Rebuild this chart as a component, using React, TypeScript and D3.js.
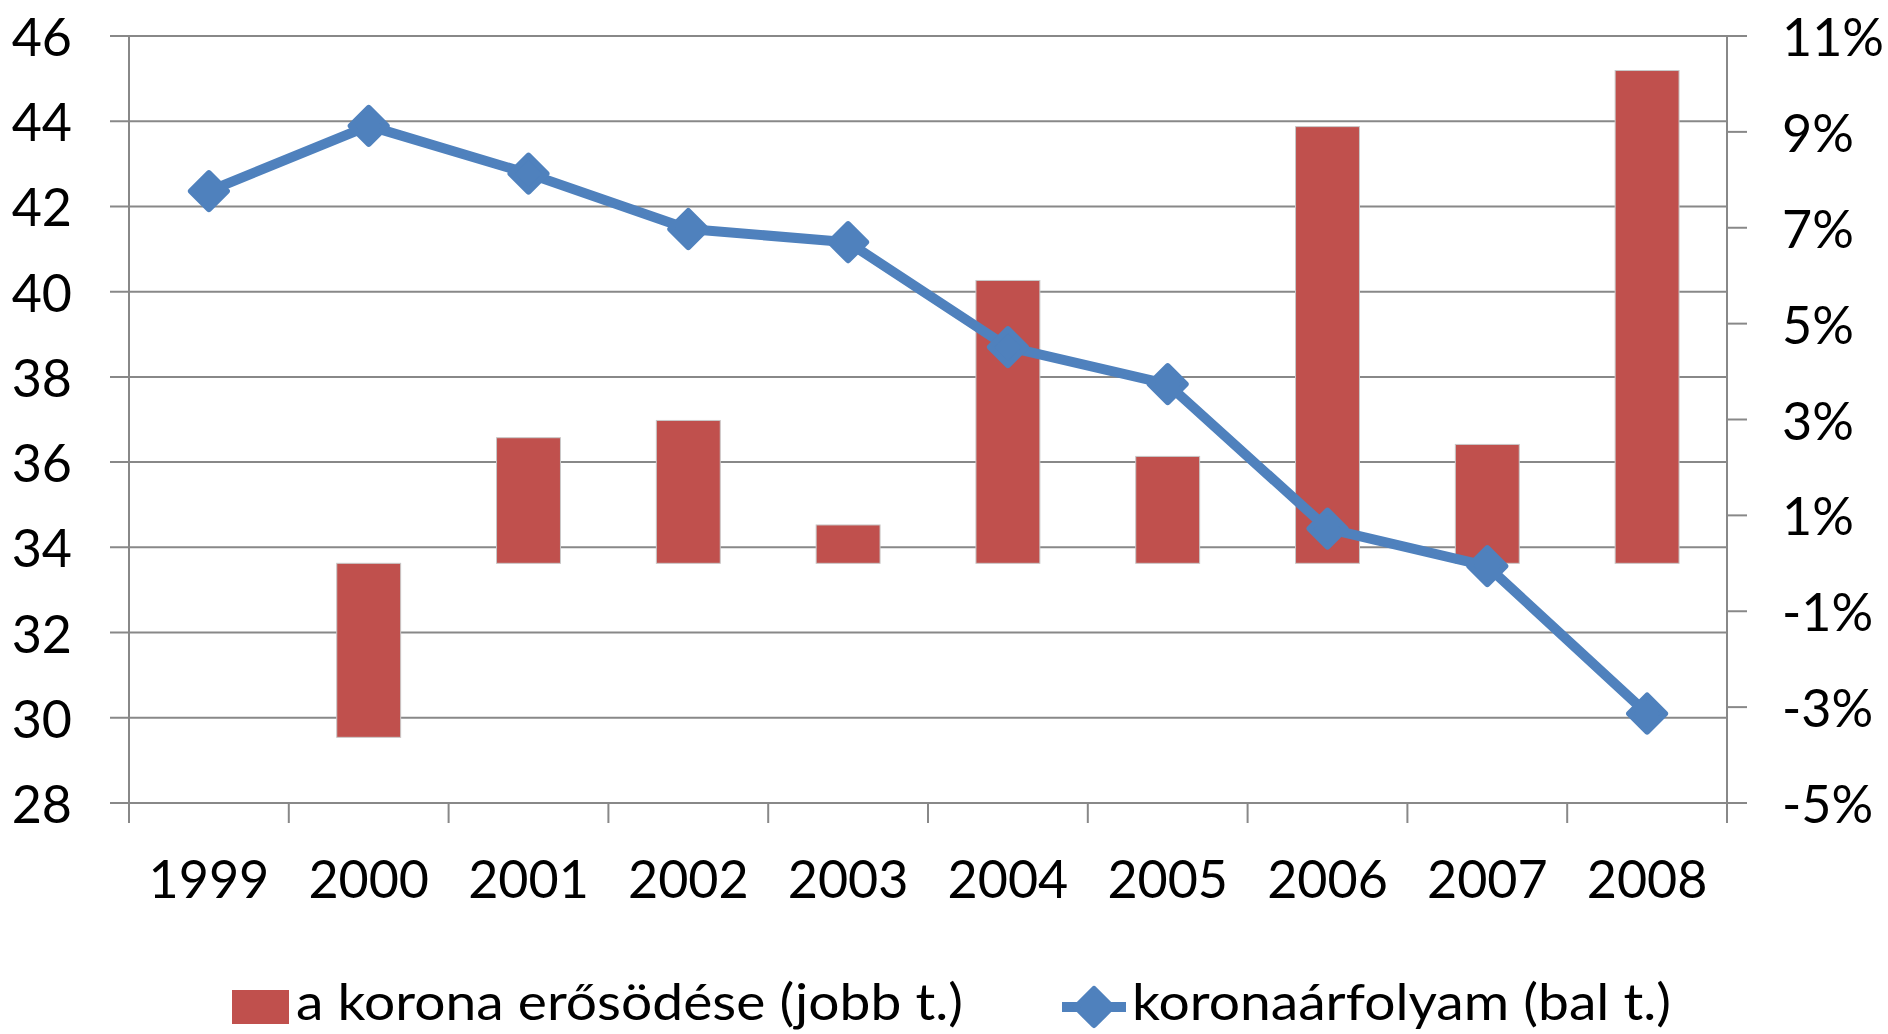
import * as d3 from "d3";

const years = ["1999", "2000", "2001", "2002", "2003", "2004", "2005", "2006", "2007", "2008"];
// a korona erősödése (jobb t.), %
const strengthening = [null, -3.63, 2.62, 2.98, 0.8, 5.9, 2.23, 9.11, 2.48, 10.28];
// koronaárfolyam (bal t.)
const rate = [42.36, 43.89, 42.77, 41.47, 41.16, 38.7, 37.83, 34.44, 33.56, 30.1];
const leftTicks = [28, 30, 32, 34, 36, 38, 40, 42, 44, 46];
const rightTicks = [-5, -3, -1, 1, 3, 5, 7, 9, 11];

const W = 1888;
const H = 1034;
const left = 129;
const right = 1727;
const top = 36;
const bottom = 803;

const barColor = "#C0504D";
const lineColor = "#4F81BD";
const gridColor = "#888888";
const font = "Lato, 'Open Sans', sans-serif";

const diamond = (cx: number, cy: number, r: number) =>
  `M${cx},${cy - r}L${cx + r},${cy}L${cx},${cy + r}L${cx - r},${cy}Z`;

const App = () => {
  const x = d3.scaleBand<string>().domain(years).range([left, right]).padding(0);
  const yL = d3.scaleLinear().domain([28, 46]).range([bottom, top]);
  const yR = d3.scaleLinear().domain([-5, 11]).range([bottom, top]);
  const bw = x.bandwidth() * 0.4;
  const cx = (d: string) => (x(d) as number) + x.bandwidth() / 2;

  const line = d3
    .line<number>()
    .x((_, i) => cx(years[i]))
    .y((d) => yL(d));

  const boundaries = d3.range(years.length + 1).map((i) => left + i * x.step());

  return (
    <div style={{ position: "absolute", left: 0, top: 0 }}>
      <svg width={W} height={H} style={{ display: "block", background: "#fff" }}>
        {/* gridlines + left ticks */}
        {leftTicks.map((t) => (
          <line key={"g" + t} x1={left - 19} x2={right} y1={yL(t)} y2={yL(t)} stroke={gridColor} strokeWidth={2} />
        ))}
        {leftTicks.map((t) => (
          <text
            key={"lt" + t}
            x={72}
            y={yL(t)}
            textAnchor="end"
            dominantBaseline="central"
            fontFamily={font}
            fontSize={52}
            fill="#000"
          >
            {t}
          </text>
        ))}

        {/* bars */}
        {years.map((yr, i) => {
          const v = strengthening[i];
          if (v == null) return null;
          const y0 = yR(0);
          const y1 = yR(v);
          return (
            <rect
              key={"b" + yr}
              x={cx(yr) - bw / 2}
              y={Math.min(y0, y1)}
              width={bw}
              height={Math.abs(y1 - y0)}
              fill={barColor}
              stroke="#c8c8c8"
              strokeWidth={1}
            />
          );
        })}

        {/* axes */}
        <line x1={left} x2={left} y1={top} y2={bottom + 20} stroke={gridColor} strokeWidth={2} />
        <line x1={right} x2={right} y1={top} y2={bottom + 20} stroke={gridColor} strokeWidth={2} />
        {boundaries.map((b, i) => (
          <line key={"xt" + i} x1={b} x2={b} y1={bottom} y2={bottom + 20} stroke={gridColor} strokeWidth={2} />
        ))}
        {rightTicks.map((t) => (
          <line key={"rt" + t} x1={right} x2={right + 20} y1={yR(t)} y2={yR(t)} stroke={gridColor} strokeWidth={2} />
        ))}
        {rightTicks.map((t) => (
          <text
            key={"rl" + t}
            x={1782}
            y={yR(t)}
            dominantBaseline="central"
            fontFamily={font}
            fontSize={52}
            fill="#000"
          >
            {t + "%"}
          </text>
        ))}
        {years.map((yr) => (
          <text
            key={"xl" + yr}
            x={cx(yr)}
            y={878}
            textAnchor="middle"
            dominantBaseline="central"
            fontFamily={font}
            fontSize={52}
            fill="#000"
          >
            {yr}
          </text>
        ))}

        {/* line series */}
        <path d={line(rate) || ""} fill="none" stroke={lineColor} strokeWidth={10} strokeLinejoin="round" />
        {rate.map((v, i) => (
          <path
            key={"m" + i}
            d={diamond(cx(years[i]), yL(v), 18)}
            fill={lineColor}
            stroke={lineColor}
            strokeWidth={6}
            strokeLinejoin="round"
          />
        ))}

        {/* legend */}
        <rect x={232} y={990} width={57} height={34} fill={barColor} />
        <text
          x={296}
          y={1000}
          dominantBaseline="central"
          fontFamily={font}
          fontSize={51}
          textLength={667}
          lengthAdjust="spacingAndGlyphs"
          fill="#000"
        >
          a korona erősödése (jobb t.)
        </text>
        <line x1={1062} x2={1126} y1={1007} y2={1007} stroke={lineColor} strokeWidth={10} />
        <path d={diamond(1094, 1007, 18)} fill={lineColor} stroke={lineColor} strokeWidth={6} strokeLinejoin="round" />
        <text
          x={1132}
          y={1000}
          dominantBaseline="central"
          fontFamily={font}
          fontSize={51}
          textLength={539}
          lengthAdjust="spacingAndGlyphs"
          fill="#000"
        >
          koronaárfolyam (bal t.)
        </text>
      </svg>
    </div>
  );
};

export default App;
